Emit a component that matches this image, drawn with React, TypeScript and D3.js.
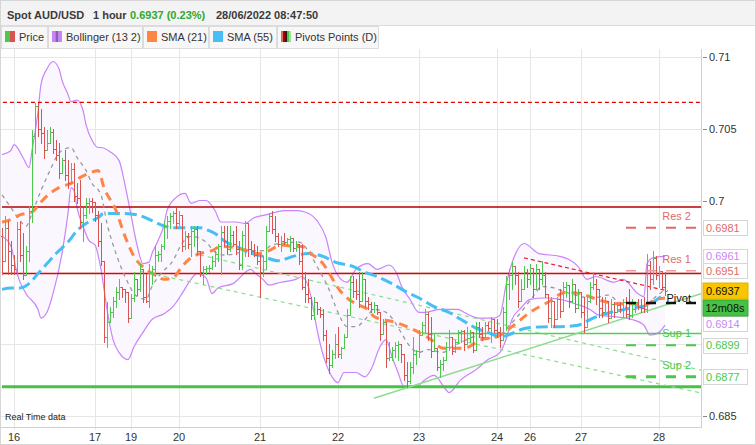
import * as d3 from 'd3';

// prices are kept in pips (1/10000)
const PIP = 10000;

const firstOpen = 6975;

const closes = [
  6958, 6981, 6965, 6955, 6952, 6980, 6962, 6948, 6965, 6993,
  7045, 7066, 7050, 7047, 7035, 7040, 7048, 7036, 7032, 7019,
  7028, 7018, 7012, 7022, 7003, 7002, 6985, 6990, 6998, 7000,
  6999, 6990, 6972, 6958, 6905, 6915, 6922, 6930, 6936, 6940,
  6938, 6936, 6918, 6932, 6945, 6938, 6952, 6933, 6930, 6950,
  6952, 6962, 6963, 6968, 6982, 6986, 6989, 6991, 6984, 6990,
  6968, 6975, 6970, 6979, 6980, 6965, 6950, 6952, 6953, 6953,
  6958, 6963, 6968, 6978, 6972, 6966, 6976, 6970, 6966, 6955,
  6976, 6984, 6966, 6965, 6962, 6958, 6950, 6958, 6979, 6989,
  6980, 6975, 6970, 6972, 6971, 6973, 6974, 6967, 6970, 6958,
  6940, 6935, 6932, 6920, 6929, 6924, 6921, 6906, 6890, 6885,
  6893, 6900, 6893, 6897, 6905, 6920, 6943, 6937, 6935, 6930,
  6945, 6930, 6928, 6924, 6927, 6922, 6907, 6915, 6890, 6891,
  6896, 6899, 6900, 6893, 6878, 6874, 6884, 6893, 6895, 6906,
  6913, 6921, 6907, 6895, 6897, 6884, 6886, 6889, 6898, 6905,
  6895, 6901, 6908, 6909, 6900, 6904, 6908, 6896, 6912, 6907,
  6905, 6913, 6911, 6917, 6910, 6908, 6903, 6922, 6942, 6948,
  6954, 6948, 6930, 6938, 6950, 6945, 6953, 6938, 6952, 6945,
  6948, 6935, 6918, 6930, 6917, 6931, 6923, 6940, 6941, 6930,
  6942, 6925, 6936, 6922, 6912, 6930, 6940, 6942, 6938, 6925,
  6922, 6930, 6918, 6928, 6922, 6927, 6924, 6929, 6921, 6920,
  6928, 6929, 6926, 6925, 6924, 6955, 6945, 6960, 6948, 6951,
  6940, 6937,
];

const highs = [
  6981, 6989, 6986, 6972, 6962, 6985, 6985, 6977, 6968, 6996,
  7049, 7068, 7068, 7064, 7051, 7049, 7051, 7050, 7042, 7040,
  7030, 7035, 7028, 7026, 7026, 7012, 7014, 6995, 7002, 7002,
  7002, 6998, 6993, 6984, 6958, 6929, 6926, 6933, 6940, 6945,
  6940, 6938, 6931, 6935, 6950, 6945, 6956, 6951, 6949, 6956,
  6954, 6968, 6965, 6970, 6986, 6989, 6991, 6993, 6995, 6993,
  6990, 6979, 6977, 6982, 6982, 6982, 6965, 6954, 6954, 6955,
  6961, 6965, 6970, 6982, 6982, 6982, 6982, 6979, 6982, 6972,
  6979, 6986, 6984, 6972, 6970, 6968, 6963, 6961, 6982, 6991,
  6993, 6989, 6977, 6975, 6977, 6974, 6975, 6974, 6972, 6970,
  6970, 6950, 6945, 6933, 6933, 6929, 6926, 6924, 6910, 6900,
  6896, 6907, 6912, 6898, 6907, 6924, 6947, 6947, 6945, 6950,
  6950, 6945, 6933, 6929, 6929, 6927, 6922, 6917, 6915, 6901,
  6898, 6901, 6902, 6900, 6893, 6887, 6887, 6905, 6896, 6910,
  6915, 6924, 6922, 6919, 6907, 6897, 6889, 6891, 6901, 6910,
  6905, 6903, 6910, 6910, 6910, 6912, 6910, 6908, 6915, 6915,
  6912, 6915, 6915, 6919, 6917, 6917, 6912, 6926, 6947, 6952,
  6957, 6954, 6950, 6945, 6954, 6952, 6956, 6953, 6956, 6952,
  6958, 6950, 6935, 6933, 6930, 6933, 6938, 6943, 6943, 6941,
  6945, 6942, 6938, 6936, 6933, 6933, 6943, 6950, 6945, 6938,
  6933, 6933, 6930, 6931, 6929, 6929, 6929, 6931, 6933, 6938,
  6931, 6929, 6931, 6931, 6933, 6963, 6958, 6965, 6961, 6954,
  6951, 6950,
];

const lows = [
  6949, 6962, 6949, 6949, 6949, 6949, 6958, 6945, 6957, 6958,
  6985, 7033, 7045, 7040, 7030, 7037, 7040, 7033, 7028, 7016,
  7019, 7014, 7009, 7014, 7000, 6998, 6981, 6972, 6988, 6991,
  6992, 6986, 6968, 6955, 6901, 6898, 6915, 6919, 6926, 6931,
  6933, 6929, 6915, 6918, 6930, 6934, 6937, 6929, 6929, 6926,
  6942, 6947, 6958, 6958, 6966, 6974, 6981, 6984, 6981, 6983,
  6965, 6966, 6967, 6961, 6968, 6963, 6947, 6942, 6949, 6950,
  6952, 6954, 6958, 6949, 6968, 6963, 6965, 6968, 6963, 6952,
  6952, 6961, 6961, 6963, 6961, 6956, 6933, 6947, 6952, 6979,
  6977, 6972, 6968, 6965, 6970, 6970, 6965, 6965, 6965, 6956,
  6938, 6929, 6929, 6917, 6917, 6921, 6919, 6903, 6887, 6880,
  6884, 6890, 6891, 6890, 6897, 6905, 6920, 6933, 6931, 6926,
  6930, 6926, 6924, 6922, 6922, 6921, 6903, 6907, 6884, 6889,
  6889, 6891, 6889, 6887, 6875, 6870, 6873, 6880, 6886, 6891,
  6906, 6908, 6903, 6891, 6895, 6882, 6877, 6882, 6889, 6896,
  6893, 6894, 6901, 6901, 6896, 6900, 6901, 6894, 6896, 6905,
  6903, 6905, 6910, 6901, 6908, 6905, 6898, 6903, 6910, 6931,
  6938, 6942, 6926, 6930, 6938, 6940, 6942, 6933, 6938, 6938,
  6942, 6933, 6915, 6912, 6912, 6917, 6919, 6923, 6933, 6926,
  6929, 6922, 6925, 6919, 6908, 6912, 6929, 6938, 6928, 6919,
  6919, 6922, 6915, 6918, 6919, 6922, 6922, 6919, 6919, 6917,
  6919, 6922, 6924, 6922, 6922, 6922, 6938, 6942, 6945, 6940,
  6938, 6934,
];

const dayLabels = ['16', '17', '19', '20', '21', '22', '23', '24', '26', '27', '28'];
const dayStarts = [4, 31, 43, 59, 86, 112, 139, 165, 176, 193, 219];

// indicator readings: [bar index, pips]
const bollUpper: [number, number][] = [
  [0, 7032], [3, 7035], [4, 7039], [7, 7030], [9, 7023], [10, 7035], [12, 7062], [13, 7081],
  [15, 7092], [17, 7097], [19, 7092], [20, 7084], [22, 7074], [23, 7069], [25, 7070], [27, 7063],
  [28, 7053], [30, 7042], [32, 7037], [33, 7037], [36, 7034], [39, 7028], [41, 7011], [43, 6990],
  [45, 6969], [47, 6956], [49, 6957], [50, 6963], [52, 6972], [54, 6983], [55, 6993], [58, 7002],
  [61, 7005], [63, 6998], [66, 7000], [68, 7000], [71, 6993], [73, 6985], [78, 6985], [81, 6984],
  [84, 6988], [88, 6990], [94, 6993], [98, 6993], [101, 6992], [105, 6986], [108, 6974], [110, 6957],
  [113, 6945], [115, 6943], [118, 6952], [122, 6956], [125, 6952], [129, 6955], [132, 6947], [133, 6941],
  [136, 6931], [139, 6922], [141, 6922], [146, 6924], [152, 6924], [154, 6922], [159, 6918], [164, 6918],
  [166, 6920], [168, 6941], [171, 6962], [174, 6970], [179, 6963], [186, 6961], [192, 6954], [195, 6945],
  [198, 6947], [204, 6943], [207, 6945], [212, 6935], [214, 6933], [215, 6956], [217, 6960], [221, 6961],
];

const bollLower: [number, number][] = [
  [0, 6975], [3, 6968], [5, 6949], [8, 6935], [12, 6924], [13, 6918], [15, 6922], [17, 6935],
  [20, 6963], [22, 6991], [23, 7009], [24, 7007], [25, 6995], [27, 6982], [29, 6972], [31, 6969],
  [33, 6952], [35, 6924], [37, 6903], [39, 6894], [42, 6889], [44, 6898], [47, 6908], [50, 6917],
  [54, 6921], [57, 6926], [60, 6935], [63, 6945], [65, 6949], [68, 6946], [70, 6935], [72, 6939],
  [77, 6942], [83, 6952], [84, 6950], [87, 6945], [89, 6941], [93, 6943], [98, 6945], [100, 6947],
  [103, 6933], [105, 6910], [108, 6886], [110, 6877], [112, 6873], [114, 6880], [118, 6880], [121, 6877],
  [123, 6882], [126, 6898], [128, 6903], [130, 6891], [132, 6880], [134, 6870], [138, 6870], [141, 6875],
  [144, 6878], [148, 6868], [149, 6866], [153, 6875], [158, 6882], [162, 6889], [166, 6894], [168, 6903],
  [170, 6917], [173, 6925], [176, 6931], [181, 6932], [186, 6931], [191, 6928], [196, 6924], [199, 6920],
  [204, 6919], [210, 6917], [214, 6913], [216, 6906], [219, 6908], [221, 6913],
];

const bollMid: [number, number][] = [
  [0, 7004], [3, 6995], [6, 6986], [8, 6982], [10, 6991], [13, 7007], [16, 7021], [18, 7030],
  [20, 7035], [23, 7037], [25, 7030], [28, 7021], [30, 7012], [33, 7004], [35, 6984], [38, 6963],
  [41, 6947], [45, 6933], [48, 6931], [50, 6940], [53, 6949], [57, 6958], [60, 6970], [63, 6975],
  [68, 6971], [71, 6964], [74, 6962], [78, 6963], [81, 6965], [87, 6965], [90, 6969], [93, 6970],
  [99, 6971], [102, 6965], [105, 6954], [109, 6938], [112, 6922], [115, 6912], [118, 6912], [121, 6917],
  [124, 6924], [128, 6922], [131, 6915], [133, 6908], [135, 6901], [139, 6894], [142, 6896], [147, 6894],
  [150, 6898], [153, 6901], [158, 6905], [162, 6904], [166, 6905], [168, 6910], [173, 6922], [177, 6933],
  [180, 6940], [184, 6939], [188, 6936], [193, 6933], [197, 6932], [202, 6934], [206, 6928], [210, 6924],
  [214, 6926], [218, 6933], [221, 6938],
];

const sma21: [number, number][] = [
  [0, 6985], [2, 6986], [6, 6990], [10, 6992], [13, 6999], [16, 7005], [19, 7009], [23, 7012],
  [26, 7016], [29, 7019], [32, 7021], [34, 7009], [38, 6993], [41, 6975], [44, 6961], [48, 6952],
  [51, 6948], [54, 6945], [57, 6946], [60, 6954], [63, 6960], [66, 6963], [70, 6965], [73, 6968],
  [82, 6965], [85, 6963], [89, 6965], [93, 6969], [98, 6968], [100, 6968], [103, 6963], [107, 6956],
  [110, 6946], [112, 6939], [115, 6932], [119, 6927], [122, 6924], [124, 6919], [127, 6917], [131, 6915],
  [136, 6911], [143, 6903], [147, 6897], [154, 6897], [160, 6903], [165, 6905], [170, 6912], [176, 6922],
  [182, 6929], [188, 6936], [193, 6935], [197, 6932], [202, 6929], [206, 6928], [210, 6928], [214, 6927],
  [218, 6931], [221, 6932],
];

const sma55: [number, number][] = [
  [0, 6938], [3, 6939], [6, 6939], [9, 6942], [12, 6949], [15, 6956], [18, 6963], [22, 6971],
  [25, 6979], [28, 6984], [32, 6988], [34, 6991], [40, 6991], [45, 6990], [50, 6986], [53, 6983],
  [57, 6981], [61, 6981], [66, 6981], [69, 6979], [71, 6977], [74, 6972], [79, 6967], [82, 6964],
  [87, 6961], [92, 6958], [97, 6961], [102, 6963], [107, 6961], [111, 6957], [117, 6954], [121, 6950],
  [125, 6947], [130, 6942], [135, 6936], [139, 6932], [144, 6926], [149, 6922], [153, 6917], [158, 6911],
  [162, 6908], [166, 6905], [175, 6911], [182, 6912], [186, 6912], [192, 6913], [197, 6918], [203, 6922],
  [210, 6925], [215, 6927], [221, 6935],
];

// drawn lines: [bar index, price]
const riseLine: [number, number][] = [[124, 0.6862], [233, 0.6935]];
const fallLineA: [number, number][] = [[66, 0.6962], [233, 0.68817]];
const fallLineB: [number, number][] = [[46, 0.69508], [233, 0.68657]];
const resTrend: [number, number][] = [[174, 0.696], [222, 0.69369]];

const prevHigh = 0.70685;
const dayHigh = 0.69955;
const dayLow = 0.6949;
const supLevel = 0.69073;
const supLevelStart = 140;
const floorLevel = 0.68701;

const pivotNames = ['Res 2', 'Res 1', 'Pivot', 'Sup 1', 'Sup 2'];
const pivotValues = [0.6981, 0.6951, 0.69285, 0.6899, 0.6877];
const pivotFrom = 208;
const pivotTo = 232;

const tagValues = [0.6981, 0.6961, 0.6951, 0.6914, 0.6899, 0.6877];
const lastPrice = 0.6937;
const countdown = '12m08s';

const yGridTicks = [0.685, 0.69, 0.695, 0.7, 0.705, 0.71];
const yLabelTicks = [0.685, 0.7, 0.705, 0.71];

const legendNames = ['Price', 'Bollinger (13 2)', 'SMA (21)', 'SMA (55)', 'Pivots Points (D)'];

const FONT = "'Liberation Sans', Arial, sans-serif";
const GREEN = '#4cc94c';
const RED = '#d9534f';
const PURPLE = '#c884f8';
const ORANGE = '#ff8545';
const BLUE = '#45bff5';

const pivotColors = ['#e06a6a', '#e99a9a', '#111111', '#48c848', '#48c848'];
const pivotTextColors = ['#e06a6a', '#e06a6a', '#111111', '#48c848', '#48c848'];
const pivotWidths = [2, 1.5, 2.5, 2, 3];
const tagColors = ['#e06a6a', PURPLE, '#e06a6a', PURPLE, '#48c848', '#48c848'];

const legendEdges = [1, 48, 143, 209, 277, 379];
const legendSwatches = [
  [GREEN, RED],
  [PURPLE, '#8f5cb8', PURPLE],
  [ORANGE],
  [BLUE],
  ['#e06a6a', '#b00000', '#222222', '#48c848', '#9be09b'],
];

export default function App() {
  const plot = { left: 0, top: 49, right: 701, bottom: 427 };

  const x = d3.scaleLinear().domain([0, 233]).range([2, 701]);
  const y = d3.scaleLinear().domain([0.685, 0.71]).range([415.5, 57.2]);
  const py = (pips: number) => y(pips / PIP);

  const bars = closes.map((c, i) => ({
    i,
    o: i === 0 ? firstOpen : closes[i - 1],
    h: highs[i],
    l: lows[i],
    c,
  }));

  const barPath = (up: boolean) =>
    bars
      .filter(b => (b.c >= b.o) === up)
      .map(b => {
        const X = Math.round(x(b.i));
        const hi = Math.round(py(Math.max(b.h, b.o, b.c)));
        const lo = Math.round(py(Math.min(b.l, b.o, b.c)));
        const yo = Math.round(py(b.o)) + 0.5;
        const yc = Math.round(py(b.c)) + 0.5;
        return `M${X + 0.5},${hi}V${lo + 1}M${X - 1},${yo}H${X + 1}M${X},${yc}H${X + 2}`;
      })
      .join('');

  const indLine = d3
    .line<[number, number]>()
    .x(d => x(d[0]))
    .y(d => py(d[1]))
    .curve(d3.curveMonotoneX);

  const priceLine = d3
    .line<[number, number]>()
    .x(d => x(d[0]))
    .y(d => y(d[1]));

  const upperArea = d3
    .area<[number, number]>()
    .x(d => x(d[0]))
    .y0(plot.bottom)
    .y1(d => py(d[1]))
    .curve(d3.curveMonotoneX);

  const lowerClipArea = d3
    .area<[number, number]>()
    .x(d => x(d[0]))
    .y0(plot.top)
    .y1(d => py(d[1]))
    .curve(d3.curveMonotoneX);

  const hLine = (v: number, from = 0, to = 233) => priceLine([[from, v], [to, v]]) || '';

  const tagH = 15;
  const tagX = 703;
  const tagW = 44;

  return (
    <div>
      <style>{`body{margin:0;}`}</style>
      <svg width={756} height={445} style={{ display: 'block', fontFamily: FONT }}>
        <defs>
          <clipPath id="plotClip">
            <rect x={plot.left} y={plot.top} width={plot.right - plot.left} height={plot.bottom - plot.top} />
          </clipPath>
          <clipPath id="lowClip">
            <path d={lowerClipArea(bollLower) || ''} />
          </clipPath>
        </defs>

        <rect x={0} y={0} width={756} height={445} fill="#fff" />

        {/* header */}
        <rect x={0} y={0} width={756} height={25} fill="#f3f3f3" />
        <line x1={0} x2={756} y1={25.5} y2={25.5} stroke="#dcdcdc" />
        <g fontSize={11} fontWeight="bold" fill="#3a3a3a">
          <text x={7} y={19}>Spot AUD/USD</text>
          <text x={93} y={19}>1 hour</text>
          <text x={130} y={19} fill="#2fa82f">0.6937 (0.23%)</text>
          <text x={216} y={19}>28/06/2022 08:47:50</text>
        </g>

        {/* legend */}
        {legendNames.map((name, k) => {
          const x0 = legendEdges[k];
          const x1 = legendEdges[k + 1];
          const sw = legendSwatches[k];
          const stripe = 10 / sw.length;
          return (
            <g key={name}>
              <rect x={x0 + 0.5} y={26.5} width={x1 - x0 - 1} height={22} fill="#f7f7f7" stroke="#dcdcdc" />
              {sw.map((c, j) => (
                <rect key={j} x={x0 + 4 + j * stripe} y={31} width={stripe} height={11} fill={c} />
              ))}
              <text x={x0 + 18} y={41} fontSize={11} fill="#333">{name}</text>
            </g>
          );
        })}

        {/* grid */}
        <g stroke="#e6e6e6" strokeWidth={1}>
          {dayStarts.map(d => {
            const gx = Math.round(x(d)) + 0.5;
            return <line key={d} x1={gx} x2={gx} y1={plot.top} y2={430} />;
          })}
          {yGridTicks.map(v => {
            const gy = Math.round(y(v)) + 0.5;
            return <line key={v} x1={plot.left} x2={plot.right} y1={gy} y2={gy} />;
          })}
        </g>

        <g clipPath="url(#plotClip)">
          {/* bollinger fill and bands */}
          <path d={upperArea(bollUpper) || ''} fill="#fbf7ff" clipPath="url(#lowClip)" />
          <path d={indLine(bollUpper) || ''} fill="none" stroke={PURPLE} strokeWidth={1.2} />
          <path d={indLine(bollLower) || ''} fill="none" stroke={PURPLE} strokeWidth={1.2} />

          {/* horizontal levels */}
          <path d={hLine(prevHigh, 0.3)} stroke="#e60000" strokeWidth={1.3} strokeDasharray="4 3" />
          <path d={hLine(dayHigh)} stroke="#b80000" strokeWidth={1.5} />
          <path d={hLine(dayLow)} stroke="#e60000" strokeWidth={1.5} />
          <path d={hLine(supLevel, supLevelStart)} stroke="#55cc55" strokeWidth={1.5} />
          <path d={hLine(floorLevel)} stroke="#44c444" strokeWidth={3} />

          {/* trend lines */}
          <path d={priceLine(riseLine) || ''} stroke="#8cdc8c" strokeWidth={1.5} fill="none" />
          <path d={priceLine(fallLineA) || ''} stroke="#8cdc8c" strokeWidth={1.2} strokeDasharray="4 4" fill="none" />
          <path d={priceLine(fallLineB) || ''} stroke="#8cdc8c" strokeWidth={1.2} strokeDasharray="4 4" fill="none" />
          <path d={priceLine(resTrend) || ''} stroke="#e62020" strokeWidth={1.2} strokeDasharray="4 3" fill="none" />

          {/* moving averages */}
          <path d={indLine(bollMid) || ''} fill="none" stroke="#9a9a9a" strokeWidth={1.3} strokeDasharray="4 4" />
          <path d={indLine(sma55) || ''} fill="none" stroke={BLUE} strokeWidth={3} strokeDasharray="12 5" />
          <path d={indLine(sma21) || ''} fill="none" stroke={ORANGE} strokeWidth={3} strokeDasharray="9 6" />

          {/* price bars */}
          <path d={barPath(true)} stroke={GREEN} strokeWidth={1} fill="none" />
          <path d={barPath(false)} stroke={RED} strokeWidth={1} fill="none" />

          {/* pivots */}
          {pivotValues.map((v, k) => (
            <g key={pivotNames[k]}>
              <path
                d={hLine(v, pivotFrom, pivotTo)}
                stroke={pivotColors[k]}
                strokeWidth={pivotWidths[k]}
                strokeDasharray="10 10"
              />
              <text
                x={691}
                y={k === 2 ? y(v) - 1 : y(v) - 8}
                textAnchor="end"
                fontSize={11}
                fill={pivotTextColors[k]}
              >
                {pivotNames[k]}
              </text>
            </g>
          ))}

          <text x={5} y={420} fontSize={9} fill="#222">Real Time data</text>
        </g>

        {/* plot frame */}
        <line x1={0.5} x2={0.5} y1={plot.top} y2={plot.bottom} stroke="#d0d0d0" />
        <line x1={plot.right + 0.5} x2={plot.right + 0.5} y1={plot.top} y2={plot.bottom} stroke="#d0d0d0" />
        <line x1={0} x2={plot.right + 1} y1={plot.bottom + 0.5} y2={plot.bottom + 0.5} stroke="#d0d0d0" />

        {/* y axis */}
        {yLabelTicks.map(v => {
          const ty = Math.round(y(v)) + 0.5;
          return (
            <g key={v}>
              <line x1={703} x2={707} y1={ty} y2={ty} stroke="#888" />
              <text x={709} y={ty} dy="0.35em" fontSize={11} fill="#333">{String(v)}</text>
            </g>
          );
        })}

        {/* x axis */}
        {dayLabels.map((lab, k) => (
          <text key={lab} x={x(dayStarts[k])} y={441} textAnchor="middle" fontSize={11} fill="#333">
            {lab}
          </text>
        ))}

        {/* value tags */}
        {tagValues.map((v, k) => (
          <g key={v}>
            <rect x={tagX + 0.5} y={Math.round(y(v) - tagH / 2) + 0.5} width={tagW} height={tagH} fill="#fff" stroke="#d6d6d6" />
            <text x={tagX + 3} y={y(v)} dy="0.36em" fontSize={11} fill={tagColors[k]}>
              {v.toFixed(4)}
            </text>
          </g>
        ))}
        <rect x={tagX} y={Math.round(y(lastPrice) - 8)} width={tagW + 1} height={16} fill="#f7c600" stroke="#e0b400" />
        <text x={tagX + 3} y={y(lastPrice)} dy="0.36em" fontSize={11} fill="#111">{lastPrice.toFixed(4)}</text>
        <rect x={tagX} y={Math.round(y(lastPrice) + 9)} width={tagW + 1} height={16} fill="#45c145" stroke="#3aa83a" />
        <text x={tagX + tagW / 2} y={y(lastPrice) + 17} dy="0.36em" textAnchor="middle" fontSize={11} fill="#111">
          {countdown}
        </text>

        <rect x={0.5} y={0.5} width={755} height={444} fill="none" stroke="#d6d6d6" />
      </svg>
    </div>
  );
}
